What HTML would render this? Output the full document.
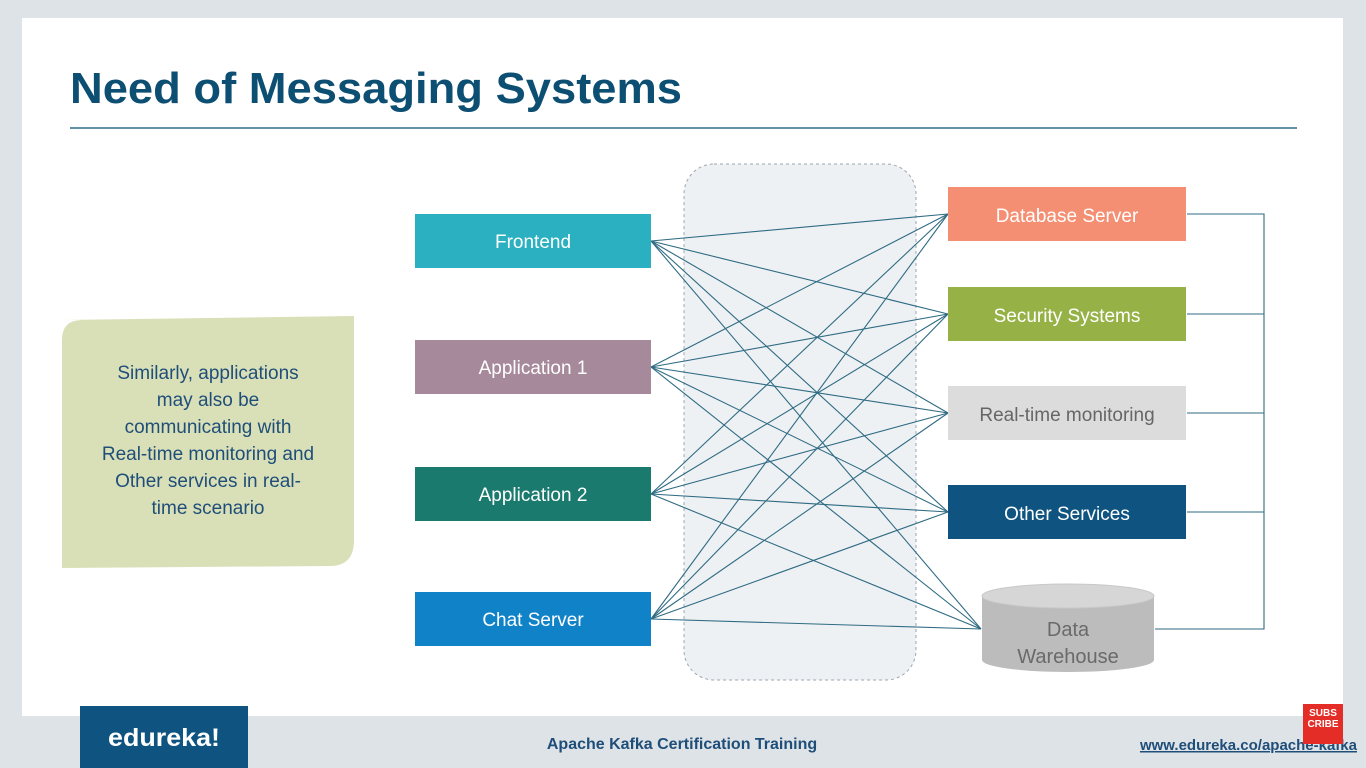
<!DOCTYPE html>
<html><head><meta charset="utf-8"><style>
html,body{margin:0;padding:0;width:1366px;height:768px;overflow:hidden;background:#dde3e6;font-family:"Liberation Sans",sans-serif}
</style></head><body>
<svg width="1366" height="768" xmlns="http://www.w3.org/2000/svg" style="position:absolute;left:0;top:0">
<rect x="0" y="0" width="1366" height="768" fill="#dde3e6"/>
<rect x="22" y="18" width="1321" height="698" fill="#ffffff"/>
<text x="70" y="103" font-size="44" font-weight="bold" fill="#0d4f73" textLength="612" lengthAdjust="spacingAndGlyphs" font-family="Liberation Sans, sans-serif">Need of Messaging Systems</text>
<line x1="70" y1="128" x2="1297" y2="128" stroke="#2e6b8a" stroke-width="1.5"/>
<rect x="684" y="164" width="232" height="516" rx="30" fill="#eef1f4" stroke="#9aa7b2" stroke-dasharray="3,3"/>
<path d="M62 320 L354 316 L354 540 Q354 566 330 566 L62 568 L62 340 Q62 320 82 320 Z" fill="#d9e0b8"/>
<g font-size="19" fill="#1f4e79" text-anchor="middle">
<text x="208" y="379">Similarly, applications</text>
<text x="208" y="406">may also be</text>
<text x="208" y="433">communicating with</text>
<text x="208" y="460">Real-time monitoring and</text>
<text x="208" y="487">Other services in real-</text>
<text x="208" y="514">time scenario</text>
</g>
<g stroke="#2f6b83" stroke-width="1.1">
<line x1="651" y1="241" x2="948" y2="214"/><line x1="651" y1="241" x2="948" y2="314"/><line x1="651" y1="241" x2="948" y2="413"/><line x1="651" y1="241" x2="948" y2="512"/><line x1="651" y1="241" x2="981" y2="629"/>
<line x1="651" y1="367" x2="948" y2="214"/><line x1="651" y1="367" x2="948" y2="314"/><line x1="651" y1="367" x2="948" y2="413"/><line x1="651" y1="367" x2="948" y2="512"/><line x1="651" y1="367" x2="981" y2="629"/>
<line x1="651" y1="494" x2="948" y2="214"/><line x1="651" y1="494" x2="948" y2="314"/><line x1="651" y1="494" x2="948" y2="413"/><line x1="651" y1="494" x2="948" y2="512"/><line x1="651" y1="494" x2="981" y2="629"/>
<line x1="651" y1="619" x2="948" y2="214"/><line x1="651" y1="619" x2="948" y2="314"/><line x1="651" y1="619" x2="948" y2="413"/><line x1="651" y1="619" x2="948" y2="512"/><line x1="651" y1="619" x2="981" y2="629"/>
<polyline points="1187,214 1264,214 1264,629 1155,629" fill="none"/>
<line x1="1187" y1="314" x2="1264" y2="314"/><line x1="1187" y1="413" x2="1264" y2="413"/><line x1="1187" y1="512" x2="1264" y2="512"/>
</g>
<g font-size="19" fill="#fff" text-anchor="middle">
<rect x="415" y="214" width="236" height="54" fill="#2ab0c0"/><text x="533" y="248">Frontend</text>
<rect x="415" y="340" width="236" height="54" fill="#a6899a"/><text x="533" y="374">Application 1</text>
<rect x="415" y="467" width="236" height="54" fill="#1b7a6e"/><text x="533" y="501">Application 2</text>
<rect x="415" y="592" width="236" height="54" fill="#0f82c8"/><text x="533" y="626">Chat Server</text>
<rect x="948" y="187" width="238" height="54" fill="#f48f73"/><text x="1067" y="222">Database Server</text>
<rect x="948" y="287" width="238" height="54" fill="#96b247"/><text x="1067" y="322">Security Systems</text>
<rect x="948" y="386" width="238" height="54" fill="#dcdcdc"/><text x="1067" y="421" fill="#666">Real-time monitoring</text>
<rect x="948" y="485" width="238" height="54" fill="#0f5480"/><text x="1067" y="520">Other Services</text>
</g>
<path d="M982 596 L982 660 A86 12 0 0 0 1154 660 L1154 596 Z" fill="#bcbcbc"/>
<ellipse cx="1068" cy="596" rx="86" ry="12" fill="#d6d6d6" stroke="#c8c8c8"/>
<g font-size="20" fill="#6a6a6a" text-anchor="middle"><text x="1068" y="636">Data</text><text x="1068" y="663">Warehouse</text></g>
<rect x="80" y="706" width="168" height="62" fill="#0f5480"/>
<text x="164" y="746" font-size="25" font-weight="bold" fill="#fff" text-anchor="middle" textLength="112" lengthAdjust="spacingAndGlyphs">edureka!</text>
<text x="682" y="749" font-size="16" font-weight="bold" fill="#1f4e79" text-anchor="middle">Apache Kafka Certification Training</text>
<text x="1357" y="750" font-size="15" font-weight="bold" fill="#1f4e79" text-anchor="end" text-decoration="underline">www.edureka.co/apache-kafka</text>
<rect x="1303" y="704" width="40" height="40" fill="#e52d27"/>
<text x="1323" y="716" font-size="10" font-weight="bold" fill="#fff" text-anchor="middle">SUBS</text>
<text x="1323" y="727" font-size="10" font-weight="bold" fill="#fff" text-anchor="middle">CRIBE</text>
</svg>
</body></html>
